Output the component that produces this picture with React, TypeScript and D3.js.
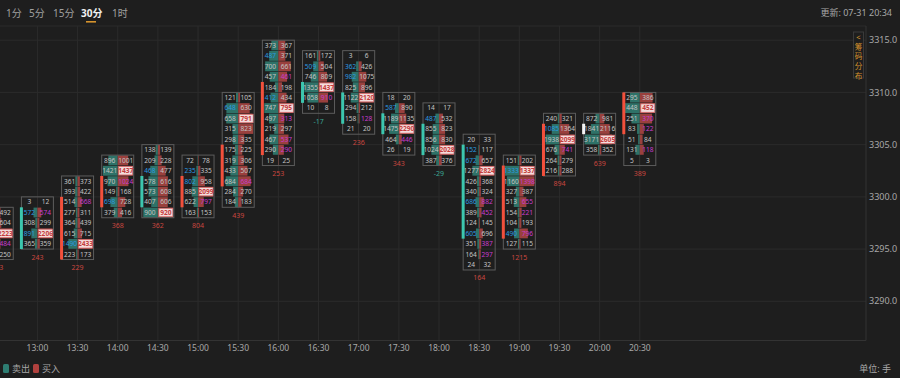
import React from "react";
import * as d3 from "d3";

const times = ["12:30","13:00","13:30","14:00","14:30","15:00","15:30","16:00","16:30","17:00","17:30","18:00","18:30","19:00","19:30","20:00","20:30"];
const highs = [3299,3300,3302,3304,3305,3304,3310,3315,3314,3314,3310,3309,3306,3304,3308,3308,3310];
const sells = [
  [310,420,1650,390,180],
  [3,572,308,891,365],
  [361,393,514,277,364,615,1490,223],
  [896,1421,970,149,698,379],
  [138,209,468,578,573,407,900],
  [72,235,802,885,622,163],
  [121,648,658,315,298,175,319,433,684,284,184],
  [373,487,700,457,184,412,747,497,219,467,290,19],
  [161,509,746,1355,1058,10],
  [3,362,982,825,1122,294,158,21],
  [18,587,1189,1475,464,26],
  [14,487,855,856,1024,387],
  [20,152,672,1277,426,340,686,389,124,605,351,164,24],
  [151,1333,1160,327,513,154,104,490,127],
  [240,1085,1938,676,264,216],
  [872,1841,3171,358],
  [295,448,251,83,51,131,5],
];
const buys = [
  [492,604,2223,484,250],
  [12,574,299,2206,359],
  [373,422,668,311,439,715,2433,173],
  [1001,1437,1024,168,728,416],
  [139,228,477,616,608,606,920],
  [78,335,958,2099,797,153],
  [105,630,791,823,335,225,306,507,684,270,183],
  [367,371,661,461,198,434,795,313,297,537,290,25],
  [172,504,809,1437,910,8],
  [6,426,1075,896,2120,212,128,20],
  [20,890,1135,2290,446,19],
  [17,532,823,830,2028,376],
  [33,117,657,2824,368,324,882,452,145,696,387,297,32],
  [202,1337,1398,387,655,221,193,796,115],
  [321,1364,2099,741,279,288],
  [981,2116,2605,352],
  [386,452,370,122,84,118,3],
];
const deltas = [123,243,229,368,362,804,439,253,-17,236,343,-29,164,1215,894,639,389];
const bodyFrom = [3299,3299,3300,3302,3302,3302,3305,3311,3311,3310,3308,3307,3305,3303,3307,3307,3310];
const bodyTo = [3296,3295,3294,3299,3299,3299,3301,3304,3309,3307,3306,3304,3296,3296,3302,3306,3306];
const bodyKind = ["red","teal","red","red","teal","red","red","red","teal","teal","teal","teal","teal","red","red","white","red"];
const blueSell = [[],[1,3],[6],[4],[2],[1,2],[1],[1,5],[1],[1,2],[1],[1],[1,2,6,9],[1,7],[1],[],[]];
const purpleBuy = [[3],[1],[2],[2],[],[4],[8],[3,7,9,10],[4],[6],[4],[],[6,7,10,11],[2,4,5,7],[3],[],[2,3,5]];
const priceTicks = [3315,3310,3305,3300,3295,3290];
const tabs = ["1分","5分","15分","30分","1时"];
const activeTab = "30分";
const sideChars = ["<","筹","码","分","布"];

const BG = "#1e1e1e";
const GRID = "#2b2b2b";
const TEAL = "#2e7268";
const RED = "#9a403d";
const TXT = "#c4c4c4";
const AX = "#a8a8a8";
const FONT = "'Noto Sans','Noto Sans CJK SC',sans-serif";

export default function App() {
  const W = 900, H = 378;
  const plotR = 866, plotT = 26, plotB = 340.5;
  const y = d3.scaleLinear().domain([3290, 3315]).range([301.3, 40.2]);
  const x = d3.scaleLinear().domain([1, 16]).range([37.4, 37.4 + 15 * 40.16]);
  const row = y(3314) - y(3315);
  const half = 16;

  const tabX = [6, 29, 53, 81, 112];

  return (
    <div style={{ position: "absolute", left: 0, top: 0 }}>
      <svg width={W} height={H} style={{ display: "block", background: BG, fontFamily: FONT }}>
        <defs>
          <clipPath id="plot"><rect x={0} y={plotT} width={plotR} height={plotB - plotT} /></clipPath>
        </defs>
        <rect width={W} height={H} fill={BG} />
        {tabs.map((t, i) => (
          <text key={t} x={tabX[i]} y={17} fontSize={10} fill={t === activeTab ? "#f0f0f0" : "#a0a0a0"} fontWeight={t === activeTab ? 700 : 400}>{t}</text>
        ))}
        <rect x={86} y={21} width={10} height={1.6} fill="#d6932d" />
        <text x={892} y={16} fontSize={9} fill={AX} textAnchor="end">更新: 07-31 20:34</text>
        <line x1={0} x2={plotR} y1={plotT} y2={plotT} stroke={GRID} />
        {priceTicks.map((p) => (
          <line key={p} x1={0} x2={plotR} y1={y(p)} y2={y(p)} stroke={GRID} />
        ))}
        {times.map((t, i) => i > 0 && (
          <line key={t} x1={x(i)} x2={x(i)} y1={plotT} y2={plotB} stroke={GRID} />
        ))}
        <line x1={0} x2={plotR} y1={plotB} y2={plotB} stroke="#333" />
        <line x1={plotR} x2={plotR} y1={plotT} y2={plotB} stroke="#333" />
        {priceTicks.map((p) => (
          <text key={p} x={869} y={y(p)} dy="0.35em" fontSize={9} fill={AX}>{p.toFixed(1)}</text>
        ))}
        {times.map((t, i) => i > 0 && (
          <text key={t} x={x(i)} y={348} dy="0.35em" fontSize={8.5} fill={AX} textAnchor="middle">{t}</text>
        ))}
        <rect x={853.5} y={32} width={10} height={46} fill={BG} stroke="#3a3a3a" />
        {sideChars.map((c, i) => (
          <text key={i} x={858.5} y={37.5 + i * 9.6} dy="0.35em" fontSize={7.6} fill="#d6932d" textAnchor="middle">{c}</text>
        ))}
        <g clipPath="url(#plot)">
          {times.map((t, ci) => {
            const cx = x(ci);
            const s = sells[ci], b = buys[ci];
            const n = s.length;
            const top = y(highs[ci]);
            const bot = y(highs[ci] - n);
            const mx = d3.max([...s, ...b]) as number;
            const w = d3.scaleLinear().domain([0, mx]).range([0, half - 1]);
            let poc = 0;
            s.forEach((v, i) => { if (v + b[i] > s[poc] + b[poc]) poc = i; });
            const bc = bodyKind[ci] === "red" ? "#f2503c" : bodyKind[ci] === "teal" ? "#3cc6ae" : "#f4f4f4";
            const d = deltas[ci];
            return (
              <g key={t}>
                {s.map((v, i) => {
                  const ry = y(highs[ci] - i);
                  return (
                    <g key={i}>
                      <rect x={cx - w(v)} y={ry + 0.3} width={w(v)} height={row - 0.6} fill={TEAL} />
                      <rect x={cx} y={ry + 0.3} width={w(b[i])} height={row - 0.6} fill={RED} />
                    </g>
                  );
                })}
                <rect x={cx + 1} y={y(highs[ci] - poc) + 1} width={half - 2} height={row - 2} fill="#f3dcdc" stroke="#d46a6a" strokeWidth={0.8} />
                <rect x={cx - half} y={top} width={half * 2} height={bot - top} fill="none" stroke="#5c5c5c" strokeWidth={1} />
                {s.map((v, i) => {
                  const ry = y(highs[ci] - i) + row / 2;
                  const isPoc = i === poc;
                  return (
                    <g key={"t" + i} fontSize={6.6}>
                      <text x={cx - 8} y={ry} dy="0.35em" textAnchor="middle" fill={blueSell[ci].includes(i) ? "#2b9be0" : TXT}>{v}</text>
                      <text x={cx + 8} y={ry} dy="0.35em" textAnchor="middle" fontWeight={isPoc ? 700 : 400} fill={isPoc ? "#c43c3c" : purpleBuy[ci].includes(i) ? "#c93ccf" : TXT}>{b[i]}</text>
                    </g>
                  );
                })}
                <rect x={cx - half - 1.5} y={y(bodyFrom[ci])} width={3} height={y(bodyTo[ci]) - y(bodyFrom[ci])} fill={bc} />
                <text x={cx} y={bot + 8} dy="0.35em" fontSize={7} textAnchor="middle" fill={d >= 0 ? "#c9463f" : "#3aa593"}>{d}</text>
              </g>
            );
          })}
        </g>
        <rect x={3} y={364} width={6} height={9} rx={1.5} fill="#2e7d72" />
        <text x={12} y={368.5} dy="0.35em" fontSize={9} fill={AX}>卖出</text>
        <rect x={33} y={364} width={6} height={9} rx={1.5} fill="#b0413e" />
        <text x={42} y={368.5} dy="0.35em" fontSize={9} fill={AX}>买入</text>
        <text x={891} y={368.5} dy="0.35em" fontSize={9} fill={AX} textAnchor="end">单位: 手</text>
      </svg>
    </div>
  );
}
